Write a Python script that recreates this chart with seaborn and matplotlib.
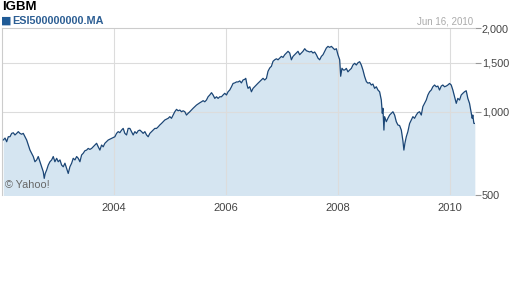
import matplotlib
matplotlib.use("Agg")
import matplotlib.pyplot as plt
import seaborn as sns
import pandas as pd

# ---- data ----
years = [
    2002.023, 2002.054, 2002.084, 2002.113, 2002.143, 2002.173, 2002.202, 2002.232, 2002.263, 2002.291,
    2002.321, 2002.352, 2002.380, 2002.411, 2002.441, 2002.470, 2002.500, 2002.530, 2002.559, 2002.589,
    2002.620, 2002.648, 2002.679, 2002.709, 2002.738, 2002.755, 2002.773, 2002.798, 2002.827, 2002.857,
    2002.888, 2002.916, 2002.946, 2002.977, 2003.005, 2003.036, 2003.066, 2003.095, 2003.125, 2003.155,
    2003.184, 2003.214, 2003.245, 2003.273, 2003.304, 2003.334, 2003.363, 2003.393, 2003.423, 2003.452,
    2003.482, 2003.513, 2003.541, 2003.571, 2003.602, 2003.661, 2003.691, 2003.720, 2003.750, 2003.780,
    2003.809, 2003.839, 2003.898, 2003.959, 2004.018, 2004.048, 2004.077, 2004.107, 2004.138, 2004.166,
    2004.196, 2004.227, 2004.255, 2004.286, 2004.316, 2004.345, 2004.375, 2004.405, 2004.434, 2004.464,
    2004.495, 2004.523, 2004.554, 2004.584, 2004.613, 2004.643, 2004.673, 2004.702, 2004.732, 2004.763,
    2004.791, 2004.821, 2004.852, 2004.911, 2004.970, 2005.000, 2005.030, 2005.059, 2005.089, 2005.120,
    2005.148, 2005.179, 2005.209, 2005.238, 2005.268, 2005.298, 2005.327, 2005.357, 2005.416, 2005.477,
    2005.536, 2005.566, 2005.595, 2005.625, 2005.655, 2005.684, 2005.714, 2005.745, 2005.773, 2005.804,
    2005.834, 2005.863, 2005.893, 2005.923, 2005.952, 2005.982, 2006.013, 2006.041, 2006.071, 2006.102,
    2006.130, 2006.161, 2006.191, 2006.220, 2006.250, 2006.280, 2006.309, 2006.339, 2006.357, 2006.380,
    2006.398, 2006.429, 2006.459, 2006.488, 2006.518, 2006.548, 2006.577, 2006.607, 2006.638, 2006.666,
    2006.696, 2006.727, 2006.755, 2006.786, 2006.816, 2006.845, 2006.875, 2006.905, 2006.934, 2006.964,
    2006.995, 2007.023, 2007.054, 2007.084, 2007.113, 2007.143, 2007.173, 2007.202, 2007.232, 2007.263,
    2007.291, 2007.321, 2007.352, 2007.380, 2007.411, 2007.441, 2007.470, 2007.500, 2007.530, 2007.559,
    2007.589, 2007.620, 2007.648, 2007.679, 2007.709, 2007.738, 2007.768, 2007.798, 2007.827, 2007.857,
    2007.888, 2007.916, 2007.946, 2007.977, 2008.005, 2008.036, 2008.054, 2008.077, 2008.102, 2008.125,
    2008.155, 2008.184, 2008.214, 2008.245, 2008.273, 2008.304, 2008.334, 2008.363, 2008.393, 2008.423,
    2008.452, 2008.482, 2008.513, 2008.541, 2008.571, 2008.602, 2008.630, 2008.661, 2008.691, 2008.720,
    2008.750, 2008.780, 2008.798, 2008.809, 2008.827, 2008.839, 2008.870, 2008.898, 2008.929, 2008.959,
    2008.988, 2009.018, 2009.048, 2009.077, 2009.107, 2009.138, 2009.166, 2009.184, 2009.202, 2009.227,
    2009.255, 2009.286, 2009.316, 2009.345, 2009.375, 2009.405, 2009.434, 2009.464, 2009.495, 2009.523,
    2009.554, 2009.584, 2009.613, 2009.643, 2009.673, 2009.702, 2009.732, 2009.763, 2009.791, 2009.821,
    2009.852, 2009.880, 2009.911, 2009.941, 2009.970, 2010.000, 2010.030, 2010.059, 2010.089, 2010.120,
    2010.148, 2010.179, 2010.209, 2010.238, 2010.268, 2010.298, 2010.327, 2010.357, 2010.388, 2010.405,
    2010.416, 2010.434, 2010.452,
]
index_values = [
    789, 802, 778, 811, 811, 834, 838, 823, 834, 846,
    834, 828, 834, 811, 789, 757, 726, 707, 688, 659,
    669, 688, 659, 632, 606, 574, 598, 615, 641, 659,
    669, 688, 659, 678, 659, 669, 641, 632, 651, 623,
    598, 632, 651, 678, 669, 688, 678, 659, 697, 707,
    722, 726, 736, 730, 736, 757, 768, 746, 726, 757,
    746, 768, 789, 800, 811, 834, 846, 839, 857, 869,
    834, 823, 869, 869, 846, 823, 846, 834, 852, 857,
    846, 834, 846, 823, 811, 834, 846, 857, 869, 869,
    880, 894, 906, 932, 945, 958, 945, 971, 998, 1018,
    1006, 1012, 998, 1006, 998, 971, 985, 998, 1027, 1055,
    1075, 1084, 1094, 1084, 1100, 1130, 1147, 1169, 1147, 1115,
    1130, 1115, 1130, 1130, 1147, 1163, 1147, 1178, 1195, 1228,
    1262, 1268, 1278, 1278, 1289, 1268, 1299, 1306, 1317, 1246,
    1212, 1228, 1178, 1212, 1230, 1248, 1265, 1282, 1299, 1317,
    1299, 1317, 1396, 1435, 1456, 1517, 1536, 1549, 1536, 1558,
    1580, 1567, 1602, 1625, 1648, 1625, 1536, 1580, 1602, 1625,
    1648, 1602, 1625, 1648, 1684, 1656, 1648, 1639, 1648, 1625,
    1639, 1602, 1558, 1536, 1580, 1602, 1648, 1694, 1717, 1703,
    1717, 1694, 1671, 1684, 1602, 1536, 1340, 1432, 1411, 1411,
    1430, 1390, 1411, 1430, 1471, 1492, 1471, 1499, 1512, 1471,
    1411, 1337, 1282, 1265, 1271, 1246, 1256, 1212, 1228, 1195,
    1178, 1100, 985, 1027, 857, 958, 919, 945, 971, 985,
    998, 971, 919, 894, 890, 857, 785, 726, 768, 811,
    846, 905, 932, 958, 945, 971, 990, 998, 971, 1041,
    1070, 1100, 1147, 1178, 1195, 1228, 1246, 1228, 1235, 1195,
    1235, 1246, 1228, 1235, 1246, 1262, 1246, 1195, 1130, 1070,
    1115, 1100, 1147, 1163, 1178, 1188, 1115, 1070, 985, 945,
    971, 907, 905,
]
y_ticks = [500, 1000, 1500, 2000]
y_tick_labels = ["500", "1,000", "1,500", "2,000"]
x_label_years = [2004, 2006, 2008, 2010]
title = "IGBM"
series_name = "ESI500000000.MA"
date_text = "Jun 16, 2010"
credit = "\u00a9 Yahoo!"

df = pd.DataFrame({"year": years, "value": index_values})

sns.set_style("white")
plt.rcParams["font.family"] = ["Liberation Sans", "DejaVu Sans"]

LINE = "#1b4676"
FILL = "#d5e5f1"
GRID = "#dcdcdc"
TXT = "#444444"

fig = plt.figure(figsize=(5.12, 2.88), dpi=100)
ax = fig.add_axes([2 / 512, 1 - 195 / 288, 473 / 512, 167 / 288])

ax.fill_between(df["year"], df["value"], 400, color=FILL, linewidth=0, zorder=1)
sns.lineplot(data=df, x="year", y="value", ax=ax, color=LINE, linewidth=0.9,
             estimator=None, sort=False, zorder=3)

ax.set_yscale("log")
ax.set_ylim(500, 2000)
ax.set_xlim(2002.0, 2010.455)

ax.set_yticks(y_ticks)
ax.set_yticklabels(y_tick_labels)
ax.yaxis.set_minor_locator(matplotlib.ticker.NullLocator())
ax.yaxis.tick_right()
ax.tick_params(axis="y", which="major", direction="out", length=4, width=0.8,
               color="#999999", labelsize=7.8, labelcolor=TXT, pad=1)

half_years = [y / 2 for y in range(4005, 4021)]
ax.set_xticks(half_years, minor=True)
ax.set_xticks(x_label_years)
ax.set_xticklabels([str(y) for y in x_label_years])
ax.tick_params(axis="x", which="both", direction="out", length=3, width=0.8,
               color="#aaaaaa", labelsize=8, labelcolor=TXT, pad=3)

for xv in x_label_years:
    ax.axvline(xv, color=GRID, linewidth=0.8, zorder=2)
for yv in [1000, 1500]:
    ax.axhline(yv, color=GRID, linewidth=0.8, zorder=2)

for side in ["right", "bottom"]:
    ax.spines[side].set_visible(False)
for side in ["top", "left"]:
    ax.spines[side].set_color("#cccccc")
    ax.spines[side].set_linewidth(0.8)

ax.set_xlabel("")
ax.set_ylabel("")

ax.text(0.006, 0.06, credit, transform=ax.transAxes, fontsize=7.8, color="#666666",
        ha="left", va="center", zorder=4)

fig.text(2 / 512, 1 - 7 / 288, title, fontsize=9.5, fontweight="bold", color="black",
         ha="left", va="center")
fig.text(1 / 512, 1 - 21 / 288, "\u25a0", fontsize=8, color="#1f5a96",
         ha="left", va="center", family=["DejaVu Sans"])
fig.text(12 / 512, 1 - 21 / 288, series_name, fontsize=7.8, fontweight="bold",
         color="#2d5f94", ha="left", va="center")
fig.text(473 / 512, 1 - 21 / 288, date_text, fontsize=7, color="#aaaaaa",
         ha="right", va="center")

fig.savefig("out.png", dpi=100)
